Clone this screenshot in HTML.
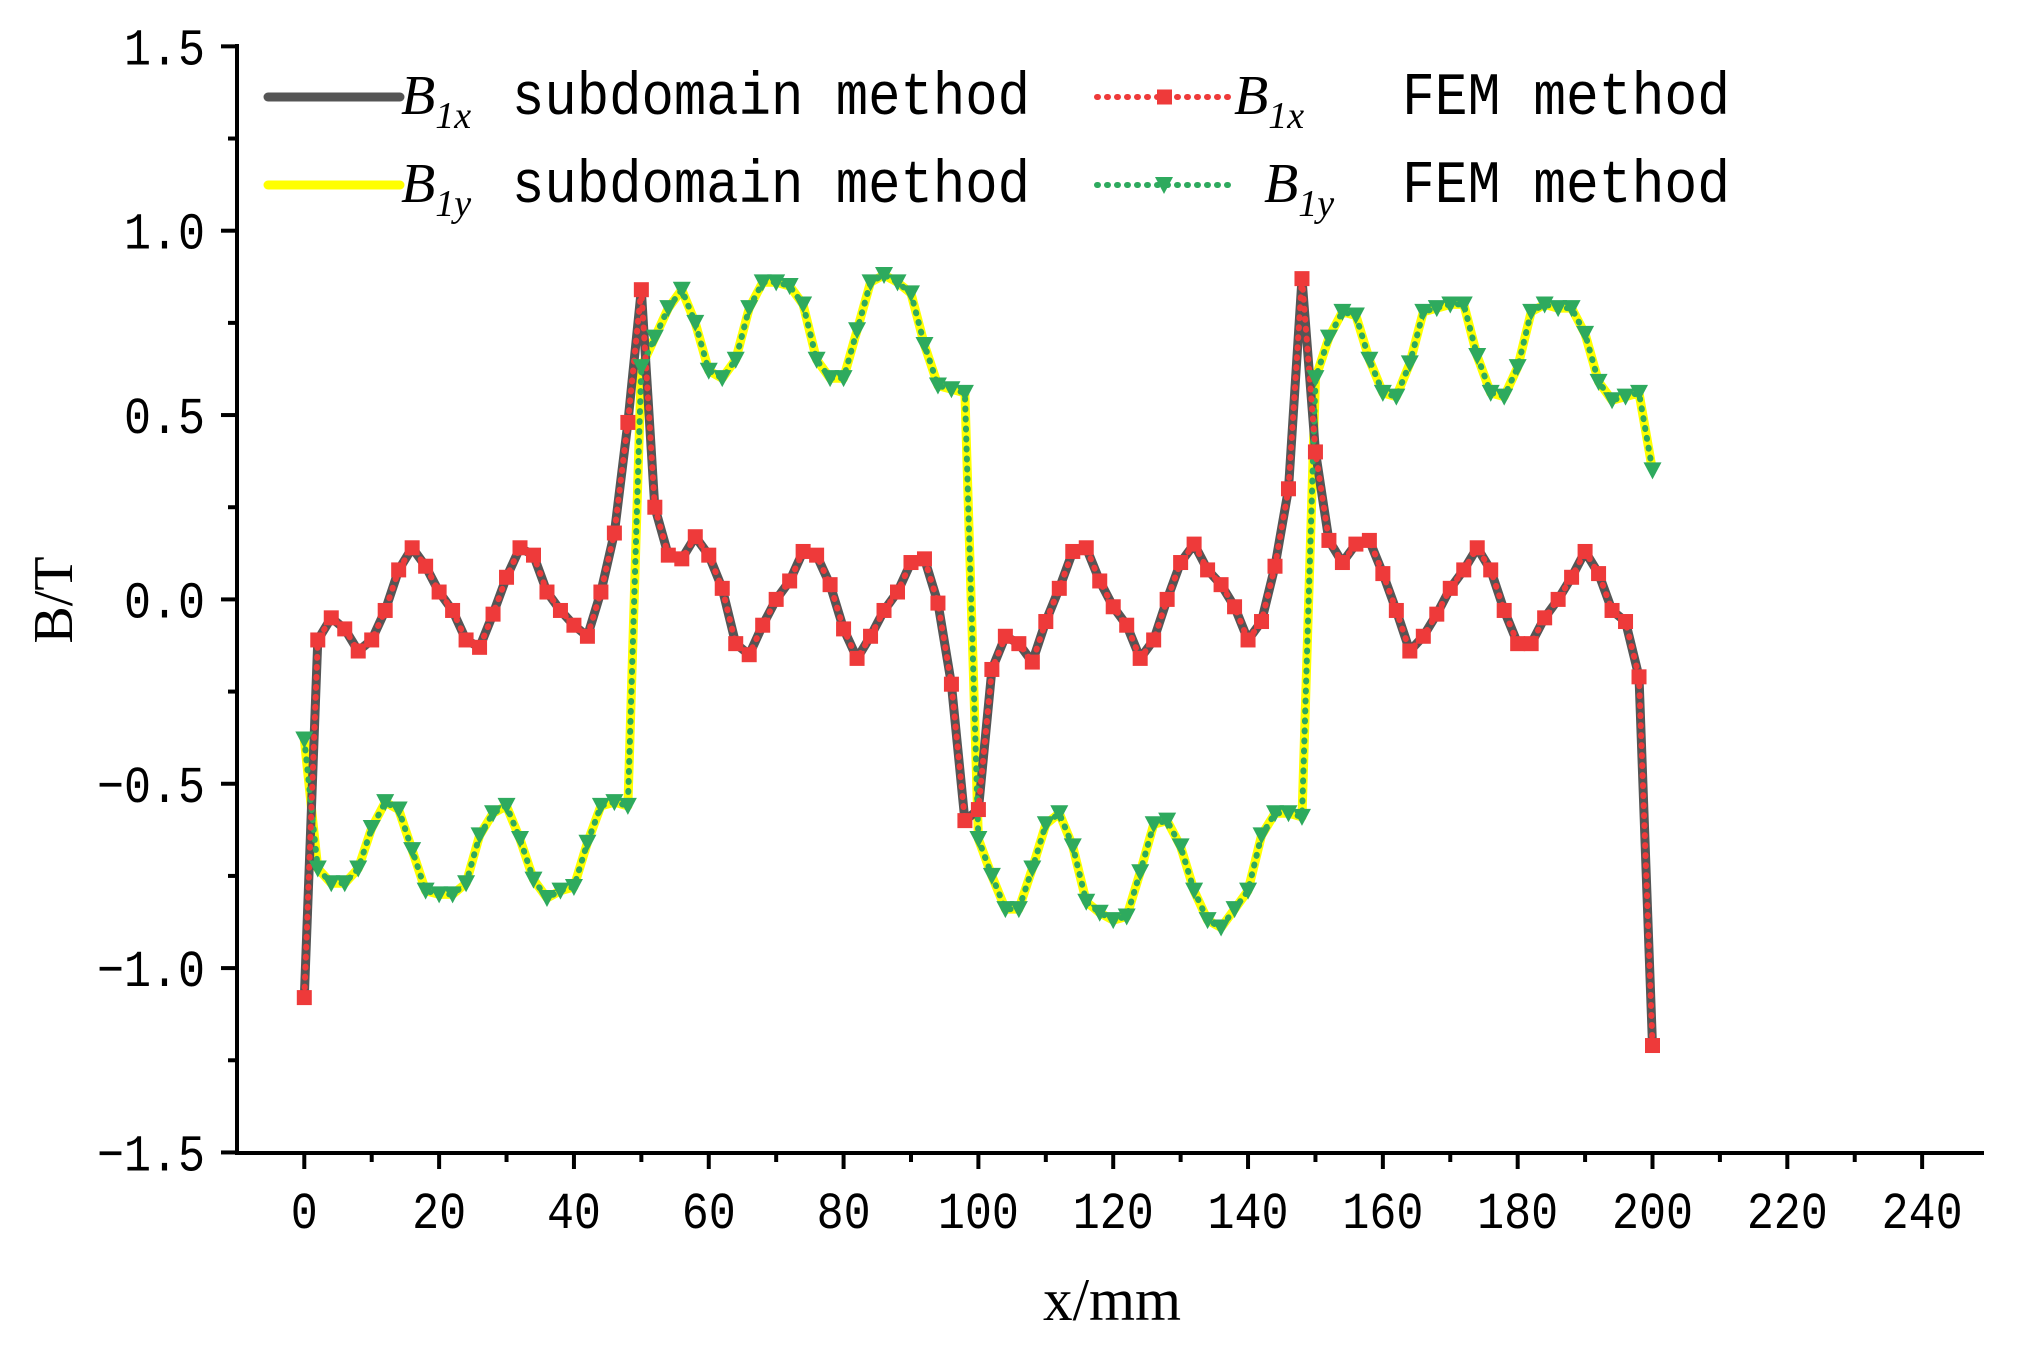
<!DOCTYPE html>
<html><head><meta charset="utf-8"><style>
html,body{margin:0;padding:0;background:#fff;}
svg{display:block;}
text{font-family:"Liberation Serif",serif;fill:#000;}
.tick{font-family:"Liberation Mono",monospace;font-size:52px;}
</style></head><body>
<svg id="chart" width="2020" height="1351" viewBox="0 0 2020 1351"></svg>
<script>
const xValues=[0,2,4,6,8,10,12,14,16,18,20,22,24,26,28,30,32,34,36,38,40,42,44,46,48,50,52,54,56,58,60,62,64,66,68,70,72,74,76,78,80,82,84,86,88,90,92,94,96,98,100,102,104,106,108,110,112,114,116,118,120,122,124,126,128,130,132,134,136,138,140,142,144,146,148,150,152,154,156,158,160,162,164,166,168,170,172,174,176,178,180,182,184,186,188,190,192,194,196,198,200];
const b1x=[-1.08,-0.11,-0.05,-0.08,-0.14,-0.11,-0.03,0.08,0.14,0.09,0.02,-0.03,-0.11,-0.13,-0.04,0.06,0.14,0.12,0.02,-0.03,-0.07,-0.10,0.02,0.18,0.48,0.84,0.25,0.12,0.11,0.17,0.12,0.03,-0.12,-0.15,-0.07,0.00,0.05,0.13,0.12,0.04,-0.08,-0.16,-0.10,-0.03,0.02,0.10,0.11,-0.01,-0.23,-0.60,-0.57,-0.19,-0.10,-0.12,-0.17,-0.06,0.03,0.13,0.14,0.05,-0.02,-0.07,-0.16,-0.11,0.00,0.10,0.15,0.08,0.04,-0.02,-0.11,-0.06,0.09,0.30,0.87,0.40,0.16,0.10,0.15,0.16,0.07,-0.03,-0.14,-0.10,-0.04,0.03,0.08,0.14,0.08,-0.03,-0.12,-0.12,-0.05,0.00,0.06,0.13,0.07,-0.03,-0.06,-0.21,-1.21];
const b1y=[-0.38,-0.73,-0.77,-0.77,-0.73,-0.62,-0.55,-0.57,-0.68,-0.79,-0.80,-0.80,-0.77,-0.64,-0.58,-0.56,-0.65,-0.76,-0.81,-0.79,-0.78,-0.66,-0.56,-0.55,-0.56,0.63,0.71,0.79,0.84,0.75,0.62,0.60,0.65,0.79,0.86,0.86,0.85,0.80,0.65,0.60,0.60,0.73,0.86,0.88,0.86,0.83,0.69,0.58,0.57,0.56,-0.65,-0.75,-0.84,-0.84,-0.73,-0.61,-0.58,-0.67,-0.82,-0.85,-0.87,-0.86,-0.74,-0.61,-0.60,-0.67,-0.79,-0.87,-0.89,-0.84,-0.79,-0.64,-0.58,-0.58,-0.59,0.60,0.71,0.78,0.77,0.65,0.56,0.55,0.64,0.78,0.79,0.80,0.80,0.66,0.56,0.55,0.63,0.78,0.80,0.79,0.79,0.72,0.59,0.54,0.55,0.56,0.35];
const xTicks=[0,20,40,60,80,100,120,140,160,180,200,220,240];
const yTicks=[-1.5,-1.0,-0.5,0.0,0.5,1.0,1.5];
const yTickLabels=["\u22121.5","\u22121.0","\u22120.5","0.0","0.5","1.0","1.5"];

const NS="http://www.w3.org/2000/svg";
const svg=document.getElementById('chart');
const X=v=>304.3+v*6.741;
const Y=v=>599.4-v*368.7;
function mk(tag,attrs,parent){const e=document.createElementNS(NS,tag);for(const k in attrs)e.setAttribute(k,attrs[k]);(parent||svg).appendChild(e);return e;}

const axes=mk('g',{});


const yAxis=mk('line',{x1:237,y1:44,x2:237,y2:1155,stroke:'#000','stroke-width':4},axes);


const xAxis=mk('line',{x1:235,y1:1153,x2:1984,y2:1153,stroke:'#000','stroke-width':4},axes);


for(let v=-10;v<=250;v+=10){const x=X(v);if(x<240||x>1984)continue;const major=v%20===0;
 const t=mk('line',{x1:x,y1:1153,x2:x,y2:1153+(major?16:9),stroke:'#000','stroke-width':4},axes);
 
 }
for(let v=-1.5;v<=1.501;v+=0.25){const major=Math.abs(v*2-Math.round(v*2))<1e-6;
 const t=mk('line',{x1:237,y1:Y(v),x2:237-(major?16:9),y2:Y(v),stroke:'#000','stroke-width':4},axes);
 
 }
xTicks.forEach(v=>{const s=String(v);const t=mk('text',{x:X(v),y:1228,'text-anchor':'middle',class:'tick',textLength:s.length*27,lengthAdjust:'spacingAndGlyphs'},axes);t.textContent=s;
 
 });
yTicks.forEach((v,i)=>{const s=yTickLabels[i];const t=mk('text',{x:205,y:Y(v)+18,'text-anchor':'end',class:'tick',textLength:s.length*27,lengthAdjust:'spacingAndGlyphs'},axes);t.textContent=s;
 
 });
const xt=mk('text',{x:1112,y:1320,'text-anchor':'middle','font-size':60,textLength:138,lengthAdjust:'spacingAndGlyphs'},axes);xt.textContent='x/mm';


const yt=mk('text',{x:0,y:0,'text-anchor':'middle','font-size':56,transform:'translate(72,600) rotate(-90)'},axes);yt.textContent='B/T';



function pathOf(arr){return arr.map((v,i)=>(i?'L':'M')+X(xValues[i]).toFixed(1)+','+Y(v).toFixed(1)).join(' ');}
const s1=mk('path',{d:pathOf(b1y),fill:'none',stroke:'#ffff00','stroke-width':9,'stroke-linejoin':'round'});


const s2=mk('path',{d:pathOf(b1x),fill:'none',stroke:'#555555','stroke-width':9,'stroke-linejoin':'round'});


const s3=mk('path',{d:pathOf(b1y),fill:'none',stroke:'#2eaa5e','stroke-width':6,'stroke-dasharray':'1 9','stroke-linecap':'round'});


const s4=mk('path',{d:pathOf(b1x),fill:'none',stroke:'#ee3a3a','stroke-width':6,'stroke-dasharray':'1 9','stroke-linecap':'round'});


const mg1=mk('g',{fill:'#2eaa5e'});


b1y.forEach((v,i)=>{const x=X(xValues[i]),y=Y(v);
 const p=mk('polygon',{points:`${x-9},${y-8} ${x+9},${y-8} ${x},${y+9}`},mg1);
 
 });
const mg2=mk('g',{fill:'#ee3a3a'});


b1x.forEach((v,i)=>{const x=X(xValues[i]),y=Y(v);
 const r=mk('rect',{x:x-7.5,y:y-7.5,width:15,height:15},mg2);
 
 });

const lg=mk('g',{});


function legendText(x,y,sub,label,gap,len,name){
 const t=mk('text',{x:x,y:y,'font-size':56},lg);
 
 
 const b=mk('tspan',{'font-style':'italic'},t);b.textContent='B';
 const s=mk('tspan',{'font-style':'italic','font-size':38,dy:14},t);s.textContent=sub;
 const r=mk('tspan',{x:gap,dy:-14,'font-family':'Liberation Mono, monospace','font-size':60,textLength:len,lengthAdjust:'spacingAndGlyphs'},t);r.textContent=label;
}
let e;
e=mk('line',{x1:268,y1:97,x2:400,y2:97,stroke:'#555','stroke-width':9,'stroke-linecap':'round'},lg);


legendText(401,114,'1x','subdomain method',512,518,'legend-b1x-subdomain');
e=mk('line',{x1:268,y1:185,x2:400,y2:185,stroke:'#ffff00','stroke-width':9,'stroke-linecap':'round'},lg);


legendText(401,202,'1y','subdomain method',512,518,'legend-b1y-subdomain');
e=mk('line',{x1:1097,y1:97,x2:1232,y2:97,stroke:'#ee3a3a','stroke-width':6,'stroke-dasharray':'1 9','stroke-linecap':'round'},lg);


e=mk('rect',{x:1157,y:89.5,width:15,height:15,fill:'#ee3a3a'},lg);


legendText(1234,114,'1x','FEM method',1402,328,'legend-b1x-fem');
e=mk('line',{x1:1097,y1:185,x2:1232,y2:185,stroke:'#2eaa5e','stroke-width':6,'stroke-dasharray':'1 9','stroke-linecap':'round'},lg);


e=mk('polygon',{points:'1155,177 1173,177 1164,194',fill:'#2eaa5e'},lg);


legendText(1264,202,'1y','FEM method',1402,328,'legend-b1y-fem');
</script>
</body></html>
